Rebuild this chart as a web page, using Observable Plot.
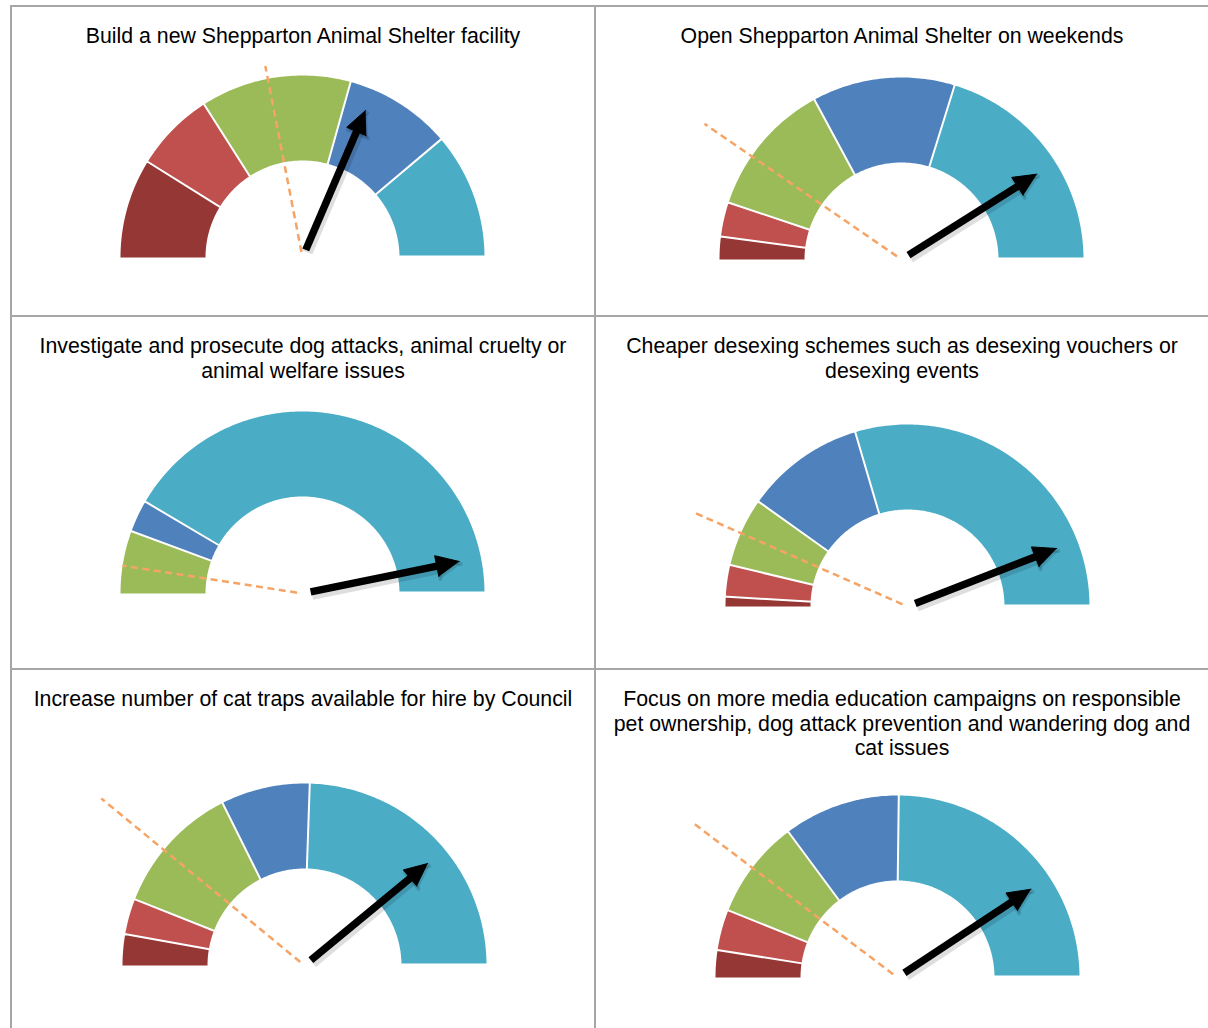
<!DOCTYPE html>
<html><head><meta charset="utf-8">
<script src="https://cdn.jsdelivr.net/npm/d3@7"></script>
<script src="https://cdn.jsdelivr.net/npm/@observablehq/plot@0.6"></script>
<style>
html,body{margin:0;padding:0;background:#fff;}
body{width:1208px;height:1028px;position:relative;overflow:hidden;font-family:"Liberation Sans",Arial,sans-serif;}
.cell{position:absolute;border-left:2px solid #a6a6a6;border-top:2px solid #a6a6a6;box-sizing:border-box;}
.title{position:absolute;text-align:center;font-size:21.3px;line-height:24.5px;color:#000;white-space:nowrap;}
.gauge{position:absolute;}
.gauge svg{overflow:visible;background:transparent;}
</style></head><body>
<script>
// ---------- data ----------
const titles = [
  ["Build a new Shepparton Animal Shelter facility"],
  ["Open Shepparton Animal Shelter on weekends"],
  ["Investigate and prosecute dog attacks, animal cruelty or", "animal welfare issues"],
  ["Cheaper desexing schemes such as desexing vouchers or", "desexing events"],
  ["Increase number of cat traps available for hire by Council"],
  ["Focus on more media education campaigns on responsible", "pet ownership, dog attack prevention and wandering dog and", "cat issues"]
];
const categories = ["Very low", "Low", "Medium", "High", "Very high"];
const categoryColors = ["#953735", "#c0504d", "#9bbb59", "#4f81bd", "#4bacc6"];

// share of responses per category (percent of the gauge)
const sharesShelterFacility = [17.8, 14.2, 26.7, 19.0, 22.3];
const sharesWeekendOpening  = [4.2, 6.1, 24.0, 25.3, 40.4];
const sharesInvestigate     = [0, 0, 11.3, 5.7, 83.0];
const sharesDesexing        = [1.9, 5.6, 12.2, 21.2, 59.1];
const sharesCatTraps        = [5.7, 6.3, 23.3, 15.8, 48.9];
const sharesMediaCampaigns  = [5.0, 7.2, 17.5, 20.7, 49.6];
const panelShares = [sharesShelterFacility, sharesWeekendOpening, sharesInvestigate, sharesDesexing, sharesCatTraps, sharesMediaCampaigns];

// needle (black arrow) and reference (dashed line) positions, percent of the gauge
const needleValues    = [62.9, 82.1, 93.6, 88.2, 78.0, 81.4];
const benchmarkValues = [43.9, 19.2, 4.9, 13.2, 21.9, 20.6];

// ---------- layout ----------
const cells = [
  {left: 10,  top: 5,   w: 584, h: 310},
  {left: 594, top: 5,   w: 614, h: 310},
  {left: 10,  top: 315, w: 584, h: 353},
  {left: 594, top: 315, w: 614, h: 353},
  {left: 10,  top: 668, w: 584, h: 360},
  {left: 594, top: 668, w: 614, h: 360}
];
const centers = [[302, 257], [900.5, 259], [301.5, 593], [906.5, 606], [303.5, 965], [896.5, 977]];
const dashReach = [1.06, 1.30, 0.99, 1.26, 1.43, 1.40];
const R_OUT = 184, R_IN = 95;
const BOX_L = 215, BOX_R = 215, BOX_T = 205, BOX_B = 15;

const inner = R_IN / R_OUT;
const toAngle = v => (v / 100) * Math.PI;           // 0 = left, PI = right
const px = (v, r) => -Math.cos(toAngle(v)) * r;
const py = (v, r) => Math.sin(toAngle(v)) * r;

function segmentPoints(shares) {
  const pts = [];
  let acc = 0;
  shares.forEach((s, i) => {
    const a0 = acc, a1 = acc + s;
    acc = a1;
    if (s <= 0) return;
    const n = Math.max(4, Math.ceil(s * 2));
    for (let k = 0; k <= n; k++) {
      const v = a0 + (a1 - a0) * k / n;
      pts.push({cat: categories[i], x: px(v, 1), y: py(v, 1)});
    }
    for (let k = n; k >= 0; k--) {
      const v = a0 + (a1 - a0) * k / n;
      pts.push({cat: categories[i], x: px(v, inner), y: py(v, inner)});
    }
  });
  return pts;
}

function arrowHead(v, tip, len, half) {
  const a = toAngle(v);
  const dx = -Math.cos(a), dy = Math.sin(a);   // direction
  const nx = -dy, ny = dx;                      // normal
  const bx = dx * (tip - len), by = dy * (tip - len);
  return [
    {x: dx * tip, y: dy * tip},
    {x: bx + nx * half, y: by + ny * half},
    {x: bx - nx * half, y: by - ny * half}
  ];
}

titles.forEach((lines, i) => {
  const c = cells[i];
  const cell = document.createElement("div");
  cell.className = "cell";
  Object.assign(cell.style, {left: c.left + "px", top: c.top + "px", width: c.w + "px", height: c.h + "px"});
  document.body.appendChild(cell);

  const t = document.createElement("div");
  t.className = "title";
  Object.assign(t.style, {left: (c.left + 2) + "px", width: (c.w - 2) + "px", top: (c.top + 19) + "px"});
  t.innerHTML = lines.map(l => l.replace(/&/g, "&amp;")).join("<br>");
  document.body.appendChild(t);

  const [cx, cy] = centers[i];
  const W = BOX_L + BOX_R, H = BOX_T + BOX_B;
  const needle = needleValues[i], bench = benchmarkValues[i];
  const tip = 0.87;
  const head = arrowHead(needle, tip, 0.125, 0.058);
  const shaft = {
    x1: v => px(v, 0.045), y1: v => py(v, 0.045),
    x2: v => px(v, tip - 0.09), y2: v => py(v, tip - 0.09)
  };

  const plot = Plot.plot({
    width: W, height: H, margin: 0,
    x: {domain: [-BOX_L / R_OUT, BOX_R / R_OUT], axis: null},
    y: {domain: [-BOX_B / R_OUT, BOX_T / R_OUT], axis: null},
    color: {domain: categories, range: categoryColors},
    marks: [
      Plot.line(segmentPoints(panelShares[i]), {x: "x", y: "y", z: "cat", fill: "cat", stroke: "white", strokeWidth: 4, strokeLinejoin: "miter"}),
      Plot.link([bench], {
        x1: v => px(v, 0.03), y1: v => py(v, 0.03),
        x2: v => px(v, dashReach[i]), y2: v => py(v, dashReach[i]),
        stroke: "#f6a466", strokeWidth: 2.5, strokeDasharray: "7,4.5"
      }),
      // soft shadow under the needle
      Plot.link([needle], {...shaft, stroke: "#000", strokeOpacity: 0.13, strokeWidth: 11, strokeLinecap: "butt", dx: 1.5, dy: 2.5}),
      Plot.line(head, {x: "x", y: "y", fill: "#000", fillOpacity: 0.13, stroke: "#000", strokeOpacity: 0.13, strokeWidth: 4, dx: 1.5, dy: 2.5}),
      // needle
      Plot.link([needle], {...shaft, stroke: "#000", strokeWidth: 7.5, strokeLinecap: "butt"}),
      Plot.line(head, {x: "x", y: "y", fill: "#000", stroke: "#000", strokeWidth: 1})
    ]
  });
  const g = document.createElement("div");
  g.className = "gauge";
  Object.assign(g.style, {left: (cx - BOX_L) + "px", top: (cy - BOX_T) + "px", width: W + "px", height: H + "px"});
  g.appendChild(plot);
  document.body.appendChild(g);
});
</script>
</body></html>
